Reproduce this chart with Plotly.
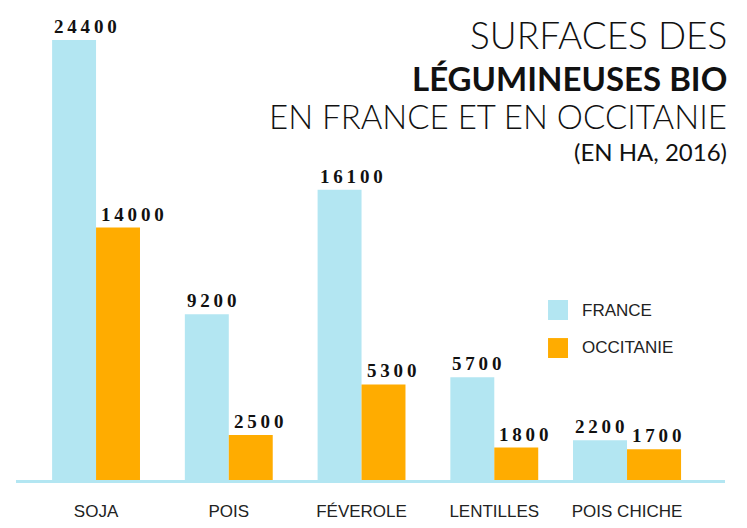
import plotly.graph_objects as go

categories = ["SOJA", "POIS", "FÉVEROLE", "LENTILLES", "POIS CHICHE"]
france = [24400, 9200, 16100, 5700, 2200]
occitanie = [14000, 2500, 5300, 1800, 1700]
series_names = ["FRANCE", "OCCITANIE"]
title_lines = ["SURFACES DES", "LÉGUMINEUSES BIO", "EN FRANCE ET EN OCCITANIE", "(EN HA, 2016)"]

C_FR = "#b3e6f2"
C_OC = "#ffac00"

# bar widths (category units) - last group drawn wider as in the original
bar_w = [0.331, 0.331, 0.331, 0.331, 0.407]
px_per_unit = 132.75

def spaced(v):
    return "\u2009".join(str(v))

fig = go.Figure()
fig.add_trace(go.Bar(x=categories, y=france, name=series_names[0], marker_color=C_FR,
                     width=bar_w, offset=[-w for w in bar_w],
                     marker_line_width=0, showlegend=False))
fig.add_trace(go.Bar(x=categories, y=occitanie, name=series_names[1], marker_color=C_OC,
                     width=bar_w, offset=[0 for w in bar_w],
                     marker_line_width=0, showlegend=False))

lab_font = dict(family="Liberation Serif, Times New Roman, serif", size=19, color="#111111", weight="bold")
for cat, v, w in zip(categories, france, bar_w):
    fig.add_annotation(x=cat, y=v, text=spaced(v), showarrow=False, xanchor="left", yanchor="bottom",
                       xshift=-w * px_per_unit, yshift=1, font=lab_font)
for cat, v, w in zip(categories, occitanie, bar_w):
    fig.add_annotation(x=cat, y=v, text=spaced(v), showarrow=False, xanchor="left", yanchor="bottom",
                       xshift=3, yshift=1, font=lab_font)

# Title
tfont = "Lato, Noto Sans, sans-serif"
title_specs = [
    (title_lines[0], 0.947, 37, 300),
    (title_lines[1], 0.8543, 33, 700),
    (title_lines[2], 0.7755, 33, 300),
    (title_lines[3], 0.698, 24, 400),
]
for txt, yy, sz, wt in title_specs:
    fig.add_annotation(xref="paper", yref="paper", x=1, y=yy, xanchor="right", yanchor="middle",
                       xshift=4, text=txt, showarrow=False,
                       font=dict(family=tfont, size=sz, color="#111111", weight=wt))

# Custom legend
leg_font = dict(family="Liberation Sans Narrow, Arial Narrow, Liberation Sans, sans-serif", size=17, color="#222222")
for (name, col, y0, y1, yc) in [(series_names[0], C_FR, 0.3404, 0.383, 0.3617),
                                (series_names[1], C_OC, 0.2596, 0.302, 0.2809)]:
    fig.add_shape(type="rect", xref="paper", yref="paper", x0=0.7504, x1=0.7786, y0=y0, y1=y1,
                  fillcolor=col, line_width=0)
    fig.add_annotation(xref="paper", yref="paper", x=0.7955, y=yc, xanchor="left", yanchor="middle",
                       text=name, showarrow=False, font=leg_font)

fig.update_layout(
    width=747, height=528,
    margin=dict(l=16, r=22, t=10, b=48, autoexpand=False),
    paper_bgcolor="white", plot_bgcolor="white",
    barmode="overlay",
    xaxis=dict(range=[-0.603, 4.738], showline=True, linecolor=C_FR, linewidth=3, automargin=False,
               showgrid=False, zeroline=False, ticks="", ticklabelstandoff=14,
               tickfont=dict(family="Liberation Sans Narrow, Arial Narrow, Liberation Sans, sans-serif",
                             size=17, color="#222222")),
    yaxis=dict(range=[0, 26070], visible=False, showgrid=False, zeroline=False, automargin=False),
)

fig.write_html("out.html", config={"displayModeBar": False},
               post_script="document.body.style.margin='0';")
